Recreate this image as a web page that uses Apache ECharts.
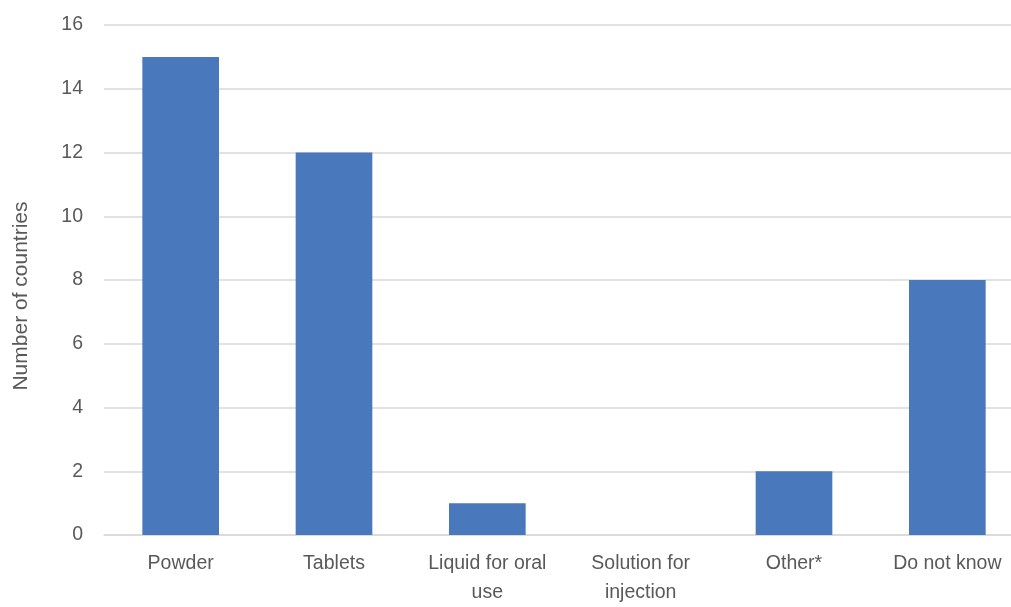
<!DOCTYPE html>
<html>
<head>
<meta charset="utf-8">
<script src="https://cdn.jsdelivr.net/npm/echarts@6/dist/echarts.min.js"></script>
<style>
  html, body { margin: 0; padding: 0; background: #ffffff; overflow: hidden; }
  /* the plot runs a little past the right edge of the window */
  #chart { width: 1024px; height: 607px; }
</style>
</head>
<body>
<div id="chart"></div>
<script>
// Forms of the product reported by countries
const categories = ['Powder', 'Tablets', 'Liquid for oral\nuse', 'Solution for\ninjection', 'Other*', 'Do not know'];
const countries = [15, 12, 1, 0, 2, 8];
const yTicks = { min: 0, max: 16, interval: 2 };

const FONT = '"Liberation Sans", Arial, sans-serif';
const TEXT = '#595959';

const chart = echarts.init(document.getElementById('chart'), null, { renderer: 'canvas' });
chart.setOption({
  animation: false,
  backgroundColor: '#ffffff',
  grid: { left: 104, right: 0, top: 25, bottom: 68, containLabel: false },
  xAxis: {
    type: 'category',
    data: categories,
    axisLine: { show: true, lineStyle: { color: '#d9d9d9', width: 1.5 } },
    axisTick: { show: false },
    axisLabel: {
      color: TEXT, fontFamily: FONT, fontSize: 19.5, lineHeight: 29,
      margin: 14, interval: 0
    }
  },
  yAxis: {
    type: 'value',
    min: yTicks.min, max: yTicks.max, interval: yTicks.interval,
    name: 'Number of countries',
    nameLocation: 'middle',
    nameGap: 72,
    nameRotate: 90,
    nameTextStyle: { color: TEXT, fontFamily: FONT, fontSize: 21, padding: [0, 32, 0, 0] },
    axisLine: { show: false },
    axisTick: { show: false },
    splitLine: { lineStyle: { color: '#d9d9d9', width: 1.5 } },
    axisLabel: { color: TEXT, fontFamily: FONT, fontSize: 19.5, margin: 21 }
  },
  series: [{
    type: 'bar',
    data: countries,
    barCategoryGap: '50%',
    itemStyle: { color: '#4A78BC' }
  }]
});
</script>
</body>
</html>
